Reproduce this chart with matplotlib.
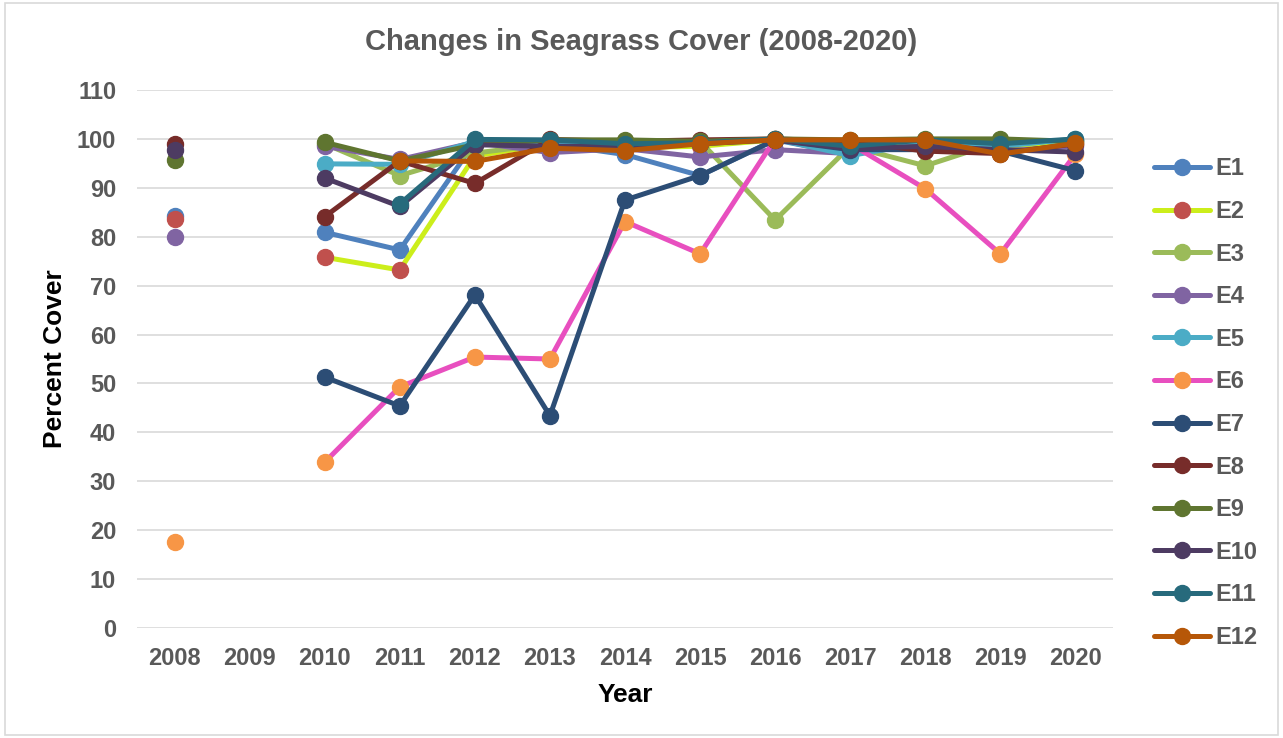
import numpy as np
import matplotlib
matplotlib.use("Agg")
import matplotlib.pyplot as plt
from matplotlib.patches import Rectangle

nan = np.nan

# ── Data ──────────────────────────────────────────────────────────────────────
years = ["2008", "2009", "2010", "2011", "2012", "2013", "2014",
         "2015", "2016", "2017", "2018", "2019", "2020"]

E1  = [84.3, nan, 80.9, 77.3, 99.3, 99.0, 96.8, 92.5, 99.8, 96.8, 99.2, 98.0, 99.5]
E2  = [83.6, nan, 75.8, 73.2, 96.5, 99.0, 98.2, 98.5, 99.8, 99.0, 99.5, 98.5, 99.0]
E3  = [nan, nan, 99.0, 92.5, 97.1, 99.0, 98.5, 99.5, 83.4, 98.5, 94.5, 99.5, 99.5]
E4  = [80.0, nan, 98.5, 95.8, 99.3, 97.2, 98.0, 96.3, 97.8, 97.0, 99.0, 97.5, 98.5]
E5  = [nan, nan, 94.9, 94.8, 99.5, 99.5, 98.5, 99.0, 100.0, 96.6, 99.2, 98.5, 100.0]
E6  = [17.6, nan, 33.9, 49.3, 55.4, 55.0, 83.1, 76.5, 100.0, 99.0, 89.8, 76.5, 96.9]
E7  = [nan, nan, 51.3, 45.4, 68.1, 43.4, 87.5, 92.5, 99.8, 97.8, 97.8, 97.5, 93.5]
E8  = [99.0, nan, 84.1, 95.5, 90.9, 99.9, 99.5, 99.8, 100.0, 99.5, 97.5, 97.0, 99.0]
E9  = [95.7, nan, 99.3, 95.5, 98.8, 99.8, 99.8, 99.5, 100.0, 99.8, 100.0, 100.0, 99.5]
E10 = [97.7, nan, 92.0, 86.2, 98.8, 98.5, 98.5, 99.0, 99.8, 98.0, 98.5, 97.8, 97.3]
E11 = [nan, nan, nan, 86.7, 99.9, 99.8, 99.0, 99.2, 100.0, 98.5, 99.8, 99.0, 100.0]
E12 = [nan, nan, nan, 95.5, 95.4, 98.1, 97.6, 99.0, 99.8, 99.8, 99.8, 96.9, 99.1]

series = [E1, E2, E3, E4, E5, E6, E7, E8, E9, E10, E11, E12]
names = ["E1", "E2", "E3", "E4", "E5", "E6", "E7", "E8", "E9", "E10", "E11", "E12"]
line_colors = ["#4F81BD", "#CCEE1B", "#9BBB59", "#8064A2", "#4BACC6", "#E84FBF",
               "#2C4D75", "#772C2A", "#5F7530", "#4D3B62", "#276A7C", "#B65708"]
marker_colors = ["#4F81BD", "#C0504D", "#9BBB59", "#8064A2", "#4BACC6", "#F79646",
                 "#2C4D75", "#772C2A", "#5F7530", "#4D3B62", "#276A7C", "#B65708"]

# ── Figure ────────────────────────────────────────────────────────────────────
plt.rcParams["font.family"] = ["Liberation Sans", "DejaVu Sans"]
GREY = "#595959"

fig = plt.figure(figsize=(12.83, 7.38), dpi=100)
ax = fig.add_axes([137 / 1283, 1 - 628 / 738, (1113 - 137) / 1283, (628 - 90) / 738])

fig.patches.append(Rectangle((0.004, 0.004), 0.992, 0.992, transform=fig.transFigure,
                             fill=False, edgecolor="#D9D9D9", linewidth=1.2))

x = np.arange(len(years))
for vals, name, lc, mc in zip(series, names, line_colors, marker_colors):
    ax.plot(x, vals, color=lc, linewidth=3.6, marker="o", markersize=11.5,
            markerfacecolor=mc, markeredgecolor=mc, label=name,
            solid_capstyle="round")

ax.set_xlim(-0.5, len(years) - 0.5)
ax.set_ylim(0, 110)
ax.set_yticks(np.arange(0, 111, 10))
ax.set_xticks(x)
ax.set_xticklabels(years)
ax.grid(axis="y", color="#D9D9D9", linewidth=1.2)
ax.set_axisbelow(True)
for s in ax.spines.values():
    s.set_visible(False)
ax.tick_params(length=0, labelsize=17, labelcolor=GREY)
for lbl in ax.get_xticklabels() + ax.get_yticklabels():
    lbl.set_fontweight("bold")
ax.tick_params(axis="y", pad=15)
ax.tick_params(axis="x", pad=14)

ax.set_ylabel("Percent Cover", fontsize=19, fontweight="bold", color="black", labelpad=7)
ax.set_xlabel("Year", fontsize=19, fontweight="bold", color="black", labelpad=9)
fig.text(0.5, 1 - 42 / 738, "Changes in Seagrass Cover (2008-2020)", ha="center", va="center",
         fontsize=21, fontweight="bold", color=GREY)

leg = ax.legend(loc="center left", bbox_to_anchor=(1.02, 0.418), frameon=False,
                fontsize=17, labelspacing=0.83, handlelength=2.4, handletextpad=0.2)
for t in leg.get_texts():
    t.set_color(GREY)
    t.set_fontweight("bold")

fig.savefig("out.png", dpi=100)
